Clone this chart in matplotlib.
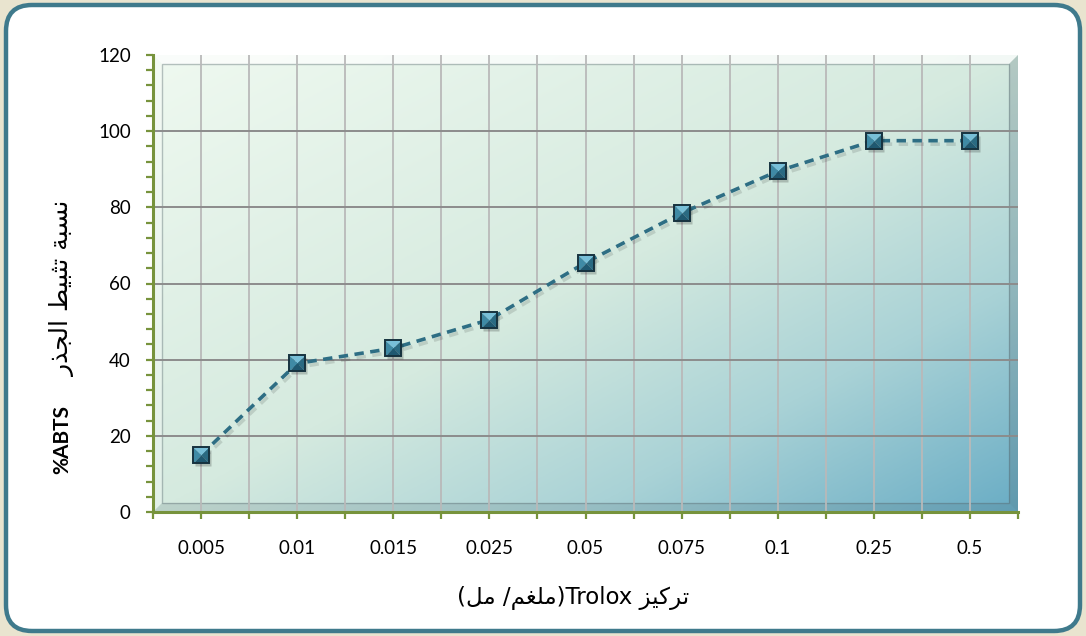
import numpy as np
import matplotlib
matplotlib.use("Agg")
import matplotlib.pyplot as plt
from matplotlib.patches import FancyBboxPatch, Polygon
from matplotlib.colors import LinearSegmentedColormap
from matplotlib.path import Path
from matplotlib.markers import MarkerStyle
from matplotlib.transforms import ScaledTranslation
import matplotlib.patheffects as pe

# ---- data -------------------------------------------------------------
concentrations = ["0.005", "0.01", "0.015", "0.025", "0.05", "0.075", "0.1", "0.25", "0.5"]
inhibition = [15, 39, 43, 50.5, 65.5, 78.5, 89.5, 97.5, 97.5]
y_ticks = [0, 20, 40, 60, 80, 100, 120]

# Arabic titles written in presentation forms (visual order)
xlabel_text = ("(\uFEDE\uFEE3 /\uFEE2\uFED0\uFEE0\uFEE3)Trolox "
               "\uFEB0\uFEF4\uFEDB\uFEAE\uFE97")
ylabel_ar = ("\uFEAD\uFEAC\uFEA0\uFEDF\uFE8D "
             "\uFEC2\uFEF4\uFE92\uFE9C\uFE97 "
             "\uFE94\uFE92\uFEB4\uFEE7")
ylabel_lat = "%ABTS"

FONT = ["Lato", "DejaVu Sans"]
plt.rcParams["font.family"] = FONT

W, H = 1086, 636
fig = plt.figure(figsize=(W / 100, H / 100), dpi=100, facecolor="#e9e4cf")

# rounded outer frame
frame = FancyBboxPatch((0.06, 0.05), 10.86 - 0.12, 6.36 - 0.10,
                       boxstyle="round,pad=0,rounding_size=0.26",
                       transform=fig.dpi_scale_trans,
                       facecolor="white", edgecolor="#3f7a8c", linewidth=3.2,
                       zorder=-10)
fig.patches.append(frame)

ax_l, ax_r, ax_t, ax_b = 153, 1018, 55, 512
ax = fig.add_axes([ax_l / W, 1 - ax_b / H, (ax_r - ax_l) / W, (ax_b - ax_t) / H])
ax.set_facecolor("none")
ax.set_zorder(1)

x = np.arange(len(concentrations))
ax.set_xlim(-0.5, len(concentrations) - 0.5)
ax.set_ylim(0, 120)

# diagonal gradient fill of the plot area
cmap = LinearSegmentedColormap.from_list(
    "bg", [(0.0, "#eff9f0"), (0.5, "#d5eadf"), (0.75, "#a9d2d6"), (1.0, "#6aadc5")])
gx, gy = np.meshgrid(np.linspace(0, 1, 400), np.linspace(0, 1, 300))
grad = (gx + gy) / 2.0
ax.imshow(grad, cmap=cmap, extent=(0, 1, 0, 1), origin="upper",
          transform=ax.transAxes, aspect="auto", zorder=0, interpolation="bicubic")

# raised bevel around the plot area
pw, ph = ax_r - ax_l, ax_b - ax_t
dx, dy = 9 / pw, 9 / ph
bands = [
    ([(0, 1), (1, 1), (1 - dx, 1 - dy), (dx, 1 - dy)], "white", 0.7),
    ([(0, 0), (0, 1), (dx, 1 - dy), (dx, dy)], "white", 0.3),
    ([(0, 0), (1, 0), (1 - dx, dy), (dx, dy)], "#3d5560", 0.16),
    ([(1, 0), (1, 1), (1 - dx, 1 - dy), (1 - dx, dy)], "#3d5560", 0.22),
]
for verts, col, a in bands:
    ax.add_patch(Polygon(verts, closed=True, transform=ax.transAxes,
                         facecolor=col, edgecolor="none", alpha=a, zorder=0.5))
ax.add_patch(Polygon([(dx, dy), (dx, 1 - dy), (1 - dx, 1 - dy), (1 - dx, dy)],
                     closed=True, transform=ax.transAxes, facecolor="none",
                     edgecolor="#5a6a70", linewidth=1.0, alpha=0.4, zorder=0.6))

# grid
ax.set_xticks(x)
ax.set_xticks(np.arange(-0.5, len(concentrations), 1.0), minor=True)
ax.set_yticks(y_ticks)
ax.set_yticks(np.arange(0, 121, 4), minor=True)
for xv in np.arange(0, len(concentrations) - 0.5, 0.5):
    ax.axvline(xv, color="#b9b9b9", linewidth=1.3, zorder=1)
for yv in y_ticks[1:-1]:
    ax.axhline(yv, color="#8c8c8c", linewidth=1.4, zorder=1)

# spines and ticks
for s in ["top", "right"]:
    ax.spines[s].set_visible(False)
for s in ["left", "bottom"]:
    ax.spines[s].set_color("#77933c")
    ax.spines[s].set_linewidth(2.2)
    ax.spines[s].set_zorder(5)
ax.tick_params(axis="both", which="both", direction="out", color="#77933c",
               width=1.6, length=5)
ax.tick_params(axis="x", which="major", pad=15)
ax.tick_params(axis="y", which="major", pad=11)
ax.set_xticklabels(concentrations, fontsize=13.5, family=FONT)
ax.set_yticklabels([str(v) for v in y_ticks], fontsize=13.5, family=FONT)

# series line
ax.plot(x, inhibition, color="#2e6e84", linewidth=2.6, dashes=(2.6, 1.8),
        zorder=3,
        path_effects=[pe.SimpleLineShadow(offset=(1.5, -2.5), alpha=0.12, shadow_color="black"),
                      pe.Normal()])

# bevelled square markers with a soft drop shadow
ms = 11
ax.plot(x, inhibition, linestyle="none", marker="s", markersize=ms + 1,
        markerfacecolor="black", markeredgecolor="none", alpha=0.2, zorder=3.5,
        transform=ax.transData + ScaledTranslation(2 / 100, -3 / 100, fig.dpi_scale_trans))
facets = [
    ([(-1, 1), (1, 1), (0, 0), (-1, 1)], "#78bfd8"),
    ([(-1, 1), (-1, -1), (0, 0), (-1, 1)], "#3f8aa5"),
    ([(1, 1), (1, -1), (0, 0), (1, 1)], "#2a6a82"),
    ([(-1, -1), (1, -1), (0, 0), (-1, -1)], "#1f5870"),
]
for verts, col in facets:
    ax.plot(x, inhibition, linestyle="none",
            marker=MarkerStyle(Path(verts, closed=True)), markersize=ms,
            markerfacecolor=col, markeredgecolor="none", zorder=4)
ax.plot(x, inhibition, linestyle="none", marker="s", markersize=ms,
        markerfacecolor="none", markeredgecolor="#16323f", markeredgewidth=1.4, zorder=4.5)

# axis titles
fig.text(573 / W, 1 - 598 / H, xlabel_text, ha="center", va="center",
         fontsize=16.5, family=["DejaVu Sans"])
fig.text(62 / W, 1 - 288 / H, ylabel_ar, ha="center", va="center",
         rotation=90, fontsize=18, family=["DejaVu Sans"])
fig.text(62 / W, 1 - 440 / H, ylabel_lat, ha="center", va="center",
         rotation=90, fontsize=15, fontweight="bold", family=FONT)

fig.savefig("out.png", dpi=100, facecolor=fig.get_facecolor())
